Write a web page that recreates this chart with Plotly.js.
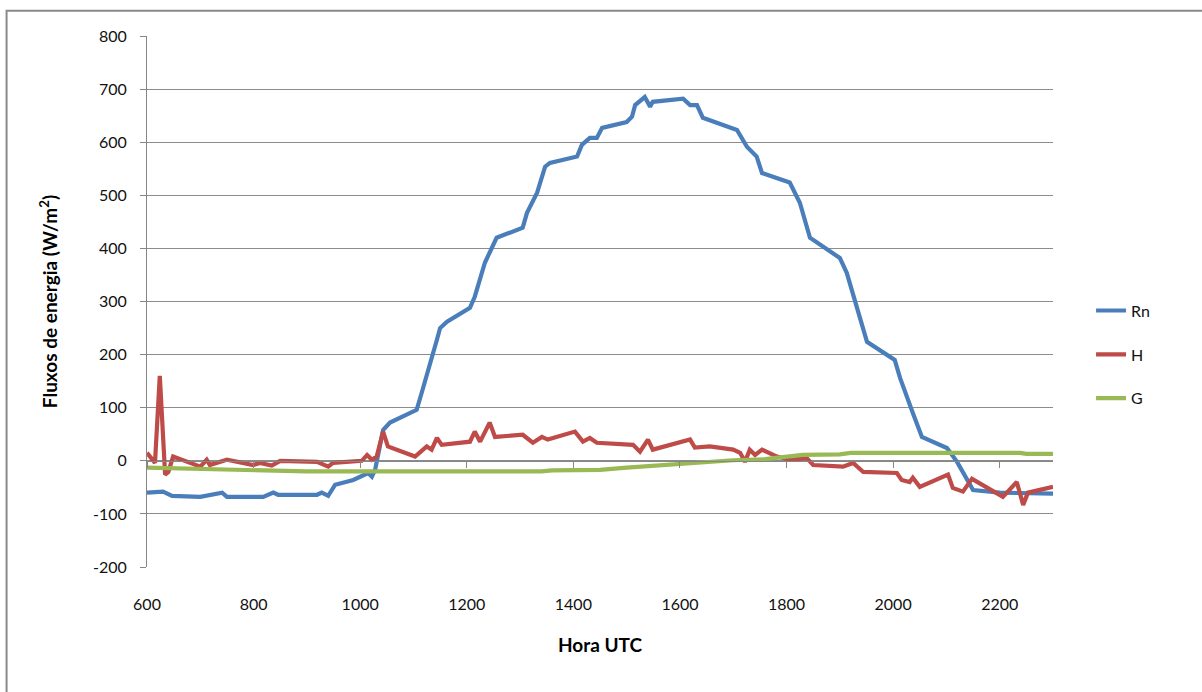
<!DOCTYPE html>
<html>
<head>
<meta charset="utf-8">
<script src="https://cdn.plot.ly/plotly-3.0.1.min.js"></script>
<style>html,body{margin:0;padding:0;background:#fff;}#chart{width:1202px;height:692px;}</style>
</head>
<body>
<div id="chart"></div>
<script>
// Rn (net radiation)
var rnX = [600, 630, 647, 700, 741, 750, 818, 837, 846, 919, 928, 940, 953, 987, 1015, 1022, 1028, 1043, 1056, 1106, 1116, 1127, 1144, 1150, 1163, 1206, 1215, 1234, 1247, 1256, 1305, 1313, 1332, 1347, 1356, 1407, 1416, 1431, 1444, 1454, 1500, 1510, 1516, 1534, 1544, 1549, 1606, 1619, 1632, 1643, 1707, 1726, 1744, 1754, 1806, 1825, 1844, 1900, 1913, 1932, 1951, 2003, 2013, 2037, 2054, 2101, 2120, 2150, 2200, 2300];
var rnY = [-60, -58, -66, -68, -60, -68, -68, -60, -64, -64, -60, -66, -45, -36, -23, -30, -17, 58, 72, 96, 130, 166, 228, 250, 262, 288, 309, 373, 403, 420, 439, 467, 505, 554, 561, 573, 595, 608, 608, 627, 638, 648, 670, 685, 667, 676, 682, 670, 670, 646, 623, 591, 573, 542, 524, 486, 420, 382, 354, 290, 224, 190, 156, 90, 45, 24, -2, -55, -60, -62];
// H (sensible heat)
var hX = [600, 615, 624, 634, 640, 649, 700, 712, 718, 750, 799, 812, 834, 850, 919, 940, 949, 1003, 1013, 1022, 1031, 1043, 1052, 1103, 1125, 1134, 1144, 1153, 1206, 1215, 1225, 1243, 1253, 1305, 1324, 1341, 1352, 1403, 1418, 1431, 1444, 1512, 1525, 1540, 1549, 1619, 1628, 1656, 1700, 1713, 1722, 1731, 1741, 1754, 1782, 1806, 1838, 1850, 1906, 1925, 1944, 2007, 2016, 2031, 2037, 2050, 2103, 2112, 2131, 2148, 2206, 2232, 2244, 2253, 2300];
var hY = [15, -4, 160, -26, -21, 8, -11, 2, -8, 2, -8, -4, -9, 0, -2, -11, -4, 0, 11, 2, 8, 55, 27, 8, 27, 21, 43, 30, 36, 55, 36, 72, 45, 49, 34, 45, 40, 55, 36, 43, 34, 30, 17, 40, 21, 40, 25, 27, 21, 15, -2, 21, 11, 21, 8, 2, 5, -8, -11, -4, -21, -23, -36, -40, -32, -49, -26, -51, -58, -34, -68, -40, -83, -60, -49];
// G (soil heat)
var gX = [600, 700, 800, 900, 1000, 1100, 1200, 1340, 1360, 1450, 1500, 1550, 1600, 1640, 1700, 1760, 1800, 1830, 1900, 1920, 2000, 2100, 2238, 2250, 2300];
var gY = [-13, -15, -17, -20, -20, -20, -20, -20, -18, -17, -13, -9, -6, -3, 1, 3, 7, 11, 12, 15, 15, 15, 15, 13, 13];

var xTicks = [600, 800, 1000, 1200, 1400, 1600, 1800, 2000, 2200];
var yTicks = [-200, -100, 0, 100, 200, 300, 400, 500, 600, 700, 800];

var lw = 4.2;
var traces = [
  {x: [600, 2300], y: [null, null], xaxis: 'x2', yaxis: 'y', showlegend: false, hoverinfo: 'skip', mode: 'lines'},
  {x: rnX, y: rnY, name: 'Rn', mode: 'lines', line: {color: '#4A7EBB', width: lw}, legendgroup: 'a'},
  {x: hX, y: hY, name: 'H', mode: 'lines', line: {color: '#BE4B48', width: lw}, legendgroup: 'b'},
  {x: gX, y: gY, name: 'G', mode: 'lines', line: {color: '#98B954', width: lw}, legendgroup: 'c'}
];

var fontFam = 'Lato, "Open Sans", sans-serif';
var layout = {
  width: 1202, height: 692,
  margin: {l: 147, r: 149, t: 36, b: 125},
  paper_bgcolor: '#ffffff', plot_bgcolor: '#ffffff',
  font: {family: fontFam, size: 16, color: '#111'},
  showlegend: true,
  legend: {x: 1.042, y: 0.40, xanchor: 'left', yanchor: 'middle', font: {size: 16, color: '#111'}, tracegroupgap: 20, bgcolor: 'rgba(0,0,0,0)'},
  xaxis: {
    range: [600, 2300], tickvals: xTicks, ticktext: xTicks.map(String),
    showgrid: false, zeroline: false, showline: false, ticks: '',
    ticklabelstandoff: 26,
    tickfont: {size: 16, color: '#111'},
    title: {text: '<b>Hora UTC</b>', font: {size: 19, color: '#000'}, standoff: 26}
  },
  xaxis2: {
    range: [600, 2300], tickvals: xTicks, overlaying: 'x', anchor: 'free', position: 0.2,
    showgrid: false, zeroline: false, showline: true, linecolor: '#868686', linewidth: 1,
    ticks: 'outside', ticklen: 6, tickcolor: '#868686', showticklabels: false
  },
  yaxis: {
    range: [-200, 800], tickvals: yTicks, ticktext: yTicks.map(String),
    showgrid: true, gridcolor: '#8c8c8c', gridwidth: 1, zeroline: false,
    showline: true, linecolor: '#868686', linewidth: 1,
    ticks: 'outside', ticklen: 6, tickcolor: '#868686',
    ticklabelstandoff: 10,
    tickfont: {size: 16, color: '#111'},
    title: {text: '<b>Fluxos de energia (W/m<sup>2</sup>)</b>', font: {size: 19, color: '#000'}, standoff: 30}
  },
  shapes: [
    {type: 'rect', xref: 'paper', yref: 'paper', x0: -0.155, x1: 1.3, y0: -0.4, y1: 1.0475,
     line: {color: '#8a8a8a', width: 2}, fillcolor: 'rgba(0,0,0,0)', layer: 'below'}
  ]
};

Plotly.newPlot('chart', traces, layout, {displayModeBar: false, staticPlot: true});
</script>
</body>
</html>
